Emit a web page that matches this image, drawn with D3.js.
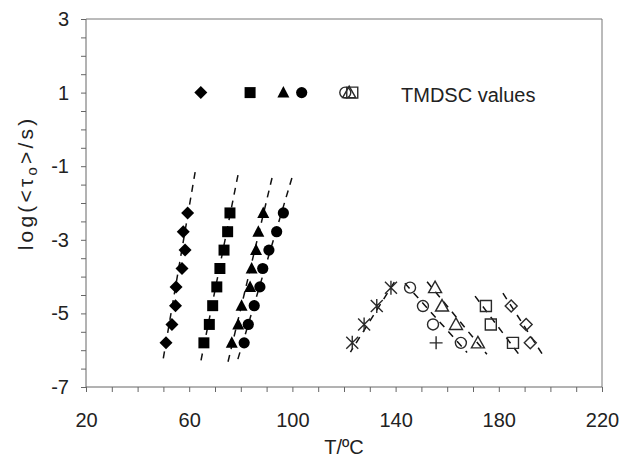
<!DOCTYPE html>
<html>
<head>
<meta charset="utf-8">
<script src="https://cdn.jsdelivr.net/npm/d3@7"></script>
<style>
  body { margin: 0; background: #fff; }
  svg { display: block; font-family: "Liberation Sans", Arial, sans-serif; }
  .axis path, .axis line { stroke: #666; }
  .axis text { fill: #222; font-size: 20px; }
</style>
</head>
<body>
<script>
// Relaxation time vs temperature - filled: fitted series, open: second group, top row: TMDSC values
const LOG_FILLED = [-2.27, -2.78, -3.28, -3.78, -4.28, -4.79, -5.3, -5.8];
const T_DIAMOND = [59.4, 57.7, 58.4, 57.2, 54.9, 54.7, 53.3, 51.0];
const T_SQUARE = [75.8, 74.9, 73.5, 71.9, 70.7, 69.1, 67.8, 65.7];
const T_TRIANGLE = [88.7, 86.8, 85.9, 84.2, 83.6, 80.3, 79.0, 76.5];
const T_CIRCLE = [96.5, 93.9, 90.9, 88.5, 87.4, 85.2, 82.9, 81.3];

const LOG_OPEN4 = [-4.3, -4.8, -5.3, -5.8];
const T_STAR = [138.2, 132.7, 127.8, 123.2];
const T_OCIRCLE = [145.6, 150.6, 154.5, 165.3];
const T_OTRIANGLE = [155.3, 158.0, 163.4, 171.9];
const LOG_OPEN3 = [-4.8, -5.3, -5.8];
const T_OSQUARE = [175.0, 176.9, 185.5];
const T_ODIAMOND = [184.8, 190.6, 192.2];
const T_PLUS = [155.7];
const LOG_PLUS = [-5.8];

const TMDSC_SYMBOLS = ["diamond", "square", "triangle", "circle", "ocircle", "osquare", "otriangle"];
const TMDSC_T = [64.5, 83.6, 96.5, 103.6, 120.5, 123.2, 122.0];
const TMDSC_LOG = 1;

// dashed fit lines: [T, log] at both ends
const FIT_LINES = [
  [[62.3, -1.16], [49.7, -6.33]],
  [[78.9, -1.24], [64.2, -6.41]],
  [[92.1, -1.32], [75.0, -6.33]],
  [[99.8, -1.32], [78.5, -6.33]],
  [[139.5, -4.15], [122.5, -6.05]],
  [[143.6, -4.18], [167.7, -6.06]],
  [[152.2, -4.14], [175.4, -6.11]],
  [[170.8, -4.53], [188.6, -6.19]],
  [[181.6, -4.45], [197.9, -6.22]]
];

const X_TICKS = d3.range(20, 221, 10);
const Y_TICKS = d3.range(-7, 3.01, 0.5);

const W = 622, H = 457;
const x = d3.scaleLinear().domain([20, 220]).range([86, 602]);
const y = d3.scaleLinear().domain([-7, 3]).range([387, 19]);

const svg = d3.select("body").append("svg").attr("width", W).attr("height", H);

function markerPath(kind) {
  const p = d3.path();
  if (kind === "diamond") { p.moveTo(0, -6.5); p.lineTo(6.5, 0); p.lineTo(0, 6.5); p.lineTo(-6.5, 0); p.closePath(); }
  else if (kind === "square") { p.rect(-5.5, -5.5, 11, 11); }
  else if (kind === "triangle") { p.moveTo(0, -6.5); p.lineTo(6, 5); p.lineTo(-6, 5); p.closePath(); }
  else if (kind === "circle") { p.arc(0, 0, 5.6, 0, 2 * Math.PI); }
  else if (kind === "ocircle") { p.moveTo(5.5, 0); p.arc(0, 0, 5.5, 0, 2 * Math.PI); }
  else if (kind === "osquare") { p.rect(-5.5, -5.5, 11, 11); }
  else if (kind === "otriangle") { p.moveTo(0, -6.5); p.lineTo(6.5, 5); p.lineTo(-6.5, 5); p.closePath(); }
  else if (kind === "odiamond") { p.moveTo(0, -6); p.lineTo(6, 0); p.lineTo(0, 6); p.lineTo(-6, 0); p.closePath(); }
  else if (kind === "star") { p.moveTo(0, -7); p.lineTo(0, 7); p.moveTo(-6, -6); p.lineTo(6, 6); p.moveTo(-6, 6); p.lineTo(6, -6); }
  else if (kind === "plus") { p.moveTo(-6.5, 0); p.lineTo(6.5, 0); p.moveTo(0, -6.5); p.lineTo(0, 6.5); }
  return p.toString();
}
const isFilled = k => ["diamond", "square", "triangle", "circle"].includes(k);

// frame (top and right)
svg.append("path").attr("fill", "none").attr("stroke", "#777")
  .attr("d", `M${x(20)},${y(3)}H${x(220)}V${y(-7)}`);

// axes
const xAxis = svg.append("g").attr("class", "axis").attr("transform", `translate(0,${y(-7)})`)
  .call(d3.axisBottom(x).tickValues(X_TICKS).tickSize(5).tickPadding(21)
    .tickFormat(d => (d - 20) % 40 === 0 ? d : ""));
const yAxis = svg.append("g").attr("class", "axis").attr("transform", `translate(${x(20)},0)`)
  .call(d3.axisLeft(y).tickValues(Y_TICKS).tickSize(5).tickPadding(12)
    .tickFormat(d => (Math.abs(d) % 2 === 1) ? String(d).replace("\u2212", "-") : ""));
xAxis.select(".domain").attr("d", `M${x(20)},0H${x(220)}`);
yAxis.select(".domain").attr("d", `M0,${y(3)}V${y(-7)}`);

// fit lines
svg.append("g").selectAll("line").data(FIT_LINES).join("line")
  .attr("x1", d => x(d[0][0])).attr("y1", d => y(d[0][1]))
  .attr("x2", d => x(d[1][0])).attr("y2", d => y(d[1][1]))
  .attr("stroke", "#111").attr("stroke-width", 1.5).attr("stroke-dasharray", "7,6");

// points
const series = [
  ["diamond", T_DIAMOND, LOG_FILLED],
  ["square", T_SQUARE, LOG_FILLED],
  ["triangle", T_TRIANGLE, LOG_FILLED],
  ["circle", T_CIRCLE, LOG_FILLED],
  ["star", T_STAR, LOG_OPEN4],
  ["ocircle", T_OCIRCLE, LOG_OPEN4],
  ["otriangle", T_OTRIANGLE, LOG_OPEN4],
  ["osquare", T_OSQUARE, LOG_OPEN3],
  ["odiamond", T_ODIAMOND, LOG_OPEN3],
  ["plus", T_PLUS, LOG_PLUS]
];
const pts = [];
series.forEach(([k, ts, ls]) => ts.forEach((t, i) => pts.push({ k, t, l: ls[i] })));
TMDSC_SYMBOLS.forEach((k, i) => pts.push({ k, t: TMDSC_T[i], l: TMDSC_LOG }));

svg.append("g").selectAll("path").data(pts).join("path")
  .attr("transform", d => `translate(${x(d.t)},${y(d.l)})`)
  .attr("d", d => markerPath(d.k))
  .attr("fill", d => isFilled(d.k) ? "#000" : "none")
  .attr("stroke", d => isFilled(d.k) ? "none" : "#2a2a2a")
  .attr("stroke-width", 1.4);

// texts
svg.append("text").attr("x", 401).attr("y", 102).attr("font-size", 20).attr("fill", "#222")
  .text("TMDSC values");
svg.append("text").attr("x", (x(20) + x(220)) / 2).attr("y", 454).attr("text-anchor", "middle")
  .attr("font-size", 20).attr("fill", "#222").text("T/ºC");
const yl = svg.append("text").attr("transform", `translate(33,183) rotate(-90)`)
  .attr("text-anchor", "middle").attr("font-size", 21).attr("letter-spacing", 3.2).attr("fill", "#222");
yl.append("tspan").text("log(<τ");
yl.append("tspan").attr("font-size", 15).attr("dy", 4).text("o");
yl.append("tspan").attr("dy", -4).text(">/s)");
</script>
</body>
</html>
